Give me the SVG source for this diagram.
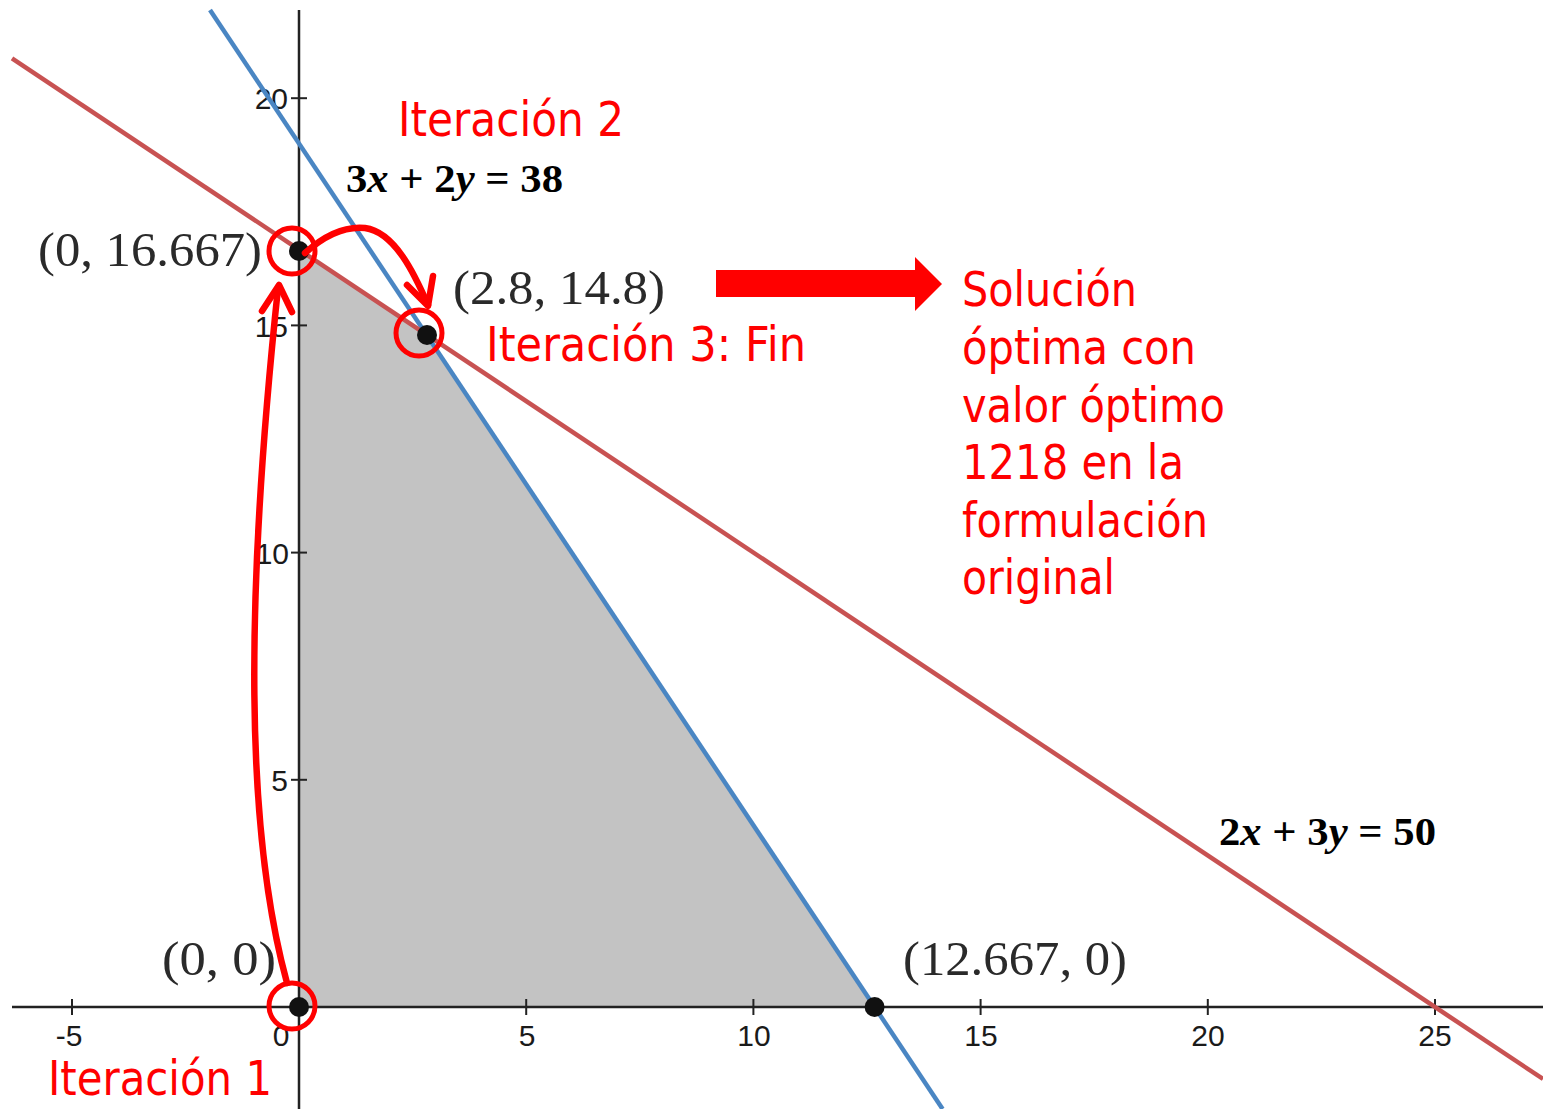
<svg xmlns="http://www.w3.org/2000/svg" width="1543" height="1109" viewBox="0 0 1543 1109">
<style>
.axis{stroke:#222;stroke-width:2.5;fill:none}
.tick{stroke:#222;stroke-width:2}
.tl{font-family:"Liberation Sans",Arial,sans-serif;font-size:30px;fill:#1a1a1a}
.pt{font-family:"Liberation Serif","Times New Roman",serif;font-size:48px;fill:#2a2a2a}
.eq{font-family:"Liberation Serif","Times New Roman",serif;font-size:41px;font-weight:bold;fill:#000}
.rt{font-family:"DejaVu Sans",Tahoma,Verdana,sans-serif;font-size:48px;fill:#ff0000}
.ring{fill:none;stroke:#ff0000;stroke-width:5}
.rarrow{fill:none;stroke:#ff0000;stroke-width:6.5;stroke-linecap:round;stroke-linejoin:round}
.dot{fill:#111}
</style>
<rect width="1543" height="1109" fill="#ffffff"/>
<g id="feasible-region">
<polygon points="299,1007 874.6,1007 426.2,334.5 299,249.6" fill="#c3c3c3"/>
</g>
<g id="axes">
<line class="axis" x1="12" y1="1007" x2="1543" y2="1007"/>
<line class="axis" x1="299" y1="10" x2="299" y2="1109"/>
<g class="tick">
<line x1="72" y1="999" x2="72" y2="1015"/>
<line x1="526.2" y1="999" x2="526.2" y2="1015"/>
<line x1="753.4" y1="999" x2="753.4" y2="1015"/>
<line x1="980.6" y1="999" x2="980.6" y2="1015"/>
<line x1="1207.8" y1="999" x2="1207.8" y2="1015"/>
<line x1="1435" y1="999" x2="1435" y2="1015"/>
<line x1="291" y1="779.8" x2="307" y2="779.8"/>
<line x1="291" y1="552.6" x2="307" y2="552.6"/>
<line x1="291" y1="325.4" x2="307" y2="325.4"/>
<line x1="291" y1="98.2" x2="307" y2="98.2"/>
</g>
<g class="tl" text-anchor="middle">
<text x="69" y="1046">-5</text>
<text x="281" y="1046">0</text>
<text x="527" y="1046">5</text>
<text x="754" y="1046">10</text>
<text x="981" y="1046">15</text>
<text x="1208" y="1046">20</text>
<text x="1435" y="1046">25</text>
</g>
<g class="tl" text-anchor="end">
<text x="288" y="791">5</text>
<text x="289" y="564">10</text>
<text x="288" y="337">15</text>
<text x="288" y="109">20</text>
</g>
</g>
<g id="constraint-lines">
<line x1="210" y1="10" x2="942.6" y2="1109" stroke="#4a86c3" stroke-width="4.5"/>
<line x1="12" y1="58.3" x2="1543" y2="1079" stroke="#c85252" stroke-width="4.5"/>
</g>
<g id="equation-labels">
<text class="eq" x="346" y="192" textLength="217" lengthAdjust="spacingAndGlyphs">3<tspan font-style="italic">x</tspan> + 2<tspan font-style="italic">y</tspan> = 38</text>
<text class="eq" x="1219" y="845" textLength="217" lengthAdjust="spacingAndGlyphs">2<tspan font-style="italic">x</tspan> + 3<tspan font-style="italic">y</tspan> = 50</text>
</g>
<g id="point-labels">
<text class="pt" x="38" y="266" textLength="224" lengthAdjust="spacingAndGlyphs">(0, 16.667)</text>
<text class="pt" x="453" y="304" textLength="212" lengthAdjust="spacingAndGlyphs">(2.8, 14.8)</text>
<text class="pt" x="162" y="975" textLength="114" lengthAdjust="spacingAndGlyphs">(0, 0)</text>
<text class="pt" x="903" y="975" textLength="224" lengthAdjust="spacingAndGlyphs">(12.667, 0)</text>
</g>
<g id="vertices">
<circle class="dot" cx="299" cy="1007" r="10"/>
<circle class="dot" cx="874.6" cy="1007" r="10"/>
<circle class="dot" cx="299" cy="251" r="10"/>
<circle class="dot" cx="427" cy="335" r="10"/>
</g>
<g id="node-iter1">
<circle class="ring" cx="292" cy="1006" r="23"/>
<text class="rt" x="48" y="1095" textLength="224" lengthAdjust="spacingAndGlyphs">Iteración 1</text>
</g>
<g id="node-iter2">
<circle class="ring" cx="292" cy="251" r="23"/>
<text class="rt" x="398" y="136" textLength="226" lengthAdjust="spacingAndGlyphs">Iteración 2</text>
</g>
<g id="node-iter3">
<circle class="ring" cx="419" cy="333" r="23"/>
<text class="rt" x="486" y="361" textLength="320" lengthAdjust="spacingAndGlyphs">Iteración 3: Fin</text>
</g>
<g id="node-solution">
<text class="rt" x="962" y="306" textLength="175" lengthAdjust="spacingAndGlyphs">Solución</text>
<text class="rt" x="962" y="364" textLength="234" lengthAdjust="spacingAndGlyphs">óptima con</text>
<text class="rt" x="962" y="422" textLength="263" lengthAdjust="spacingAndGlyphs">valor óptimo</text>
<text class="rt" x="962" y="479" textLength="222" lengthAdjust="spacingAndGlyphs">1218 en la</text>
<text class="rt" x="962" y="537" textLength="246" lengthAdjust="spacingAndGlyphs">formulación</text>
<text class="rt" x="962" y="594" textLength="153" lengthAdjust="spacingAndGlyphs">original</text>
</g>
<g id="connectors">
<path class="rarrow" d="M287,983 C245,830 245,600 278,288"/>
<path class="rarrow" d="M262,311 L279,285 L292,312"/>
<path class="rarrow" d="M305,253 C325,235 345,226 365,228 C395,232 415,275 428,305"/>
<path class="rarrow" d="M407,285 L428,306 L433,276"/>
<polygon points="716,270 915,270 915,257 942,284 915,311 915,297 716,297" fill="#ff0000"/>
</g>
</svg>
